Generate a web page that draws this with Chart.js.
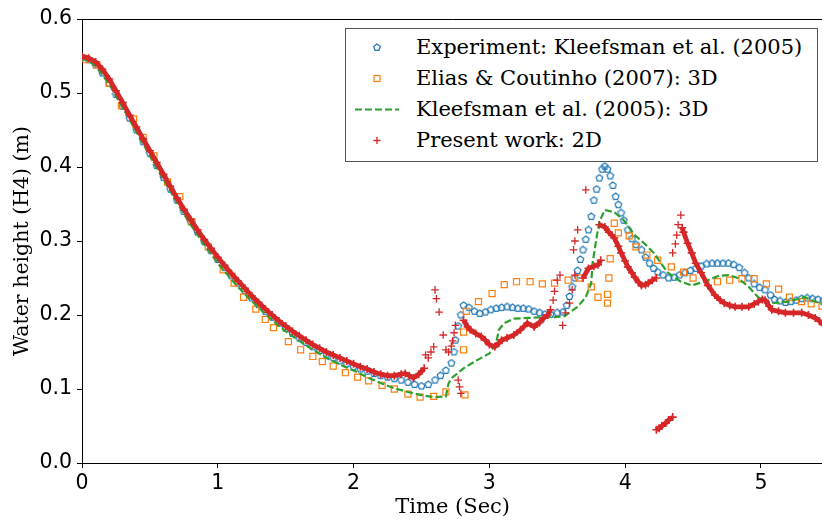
<!DOCTYPE html>
<html>
<head>
<meta charset="utf-8">
<script src="https://cdn.jsdelivr.net/npm/chart.js@4"></script>
<style>
  html, body { margin: 0; padding: 0; background: #fff; overflow: hidden; }
  #wrap { position: relative; width: 822px; height: 523px; overflow: hidden; }
  #legend {
    position: absolute; left: 345px; top: 28px; width: 473px; height: 134px;
    box-sizing: border-box; border: 1px solid #555; background: #fff;
    font-family: "DejaVu Serif", serif; font-size: 21px; color: #000;
    padding-top: 3px;
  }
  .row { position: relative; height: 31px; line-height: 31px; padding-left: 70px; white-space: nowrap; }
  .row svg { position: absolute; left: 0; top: 0; }
</style>
</head>
<body>
<div id="wrap">
  <canvas id="chart" width="829" height="523"></canvas>
  <div id="legend">
    <div class="row"><svg width="60" height="31"><polygon points="31,12 34.3,14.4 33,18.3 29,18.3 27.7,14.4" fill="none" stroke="#1f77b4" stroke-width="1.2"/></svg>Experiment: Kleefsman et al. (2005)</div>
    <div class="row"><svg width="60" height="31"><rect x="28" y="12.5" width="6" height="6" fill="none" stroke="#ff7f0e" stroke-width="1.2"/></svg>Elias &amp; Coutinho (2007): 3D</div>
    <div class="row"><svg width="60" height="31"><line x1="9" y1="15.5" x2="53" y2="15.5" stroke="#2ca02c" stroke-width="2" stroke-dasharray="7,3"/></svg>Kleefsman et al. (2005): 3D</div>
    <div class="row"><svg width="60" height="31"><path d="M31,12 V19 M27.5,15.5 H34.5" stroke="#d62728" stroke-width="1.3"/></svg>Present work: 2D</div>
  </div>
</div>
<script>
// time (s), water height (m)
const expPoints = [
  [0,.548],[0.05,.545],[0.1,.538],[0.15,.527],[0.2,.513],[0.25,.498],[0.3,.482],[0.35,.466],[0.4,.45],[0.45,.434],
  [0.5,.418],[0.55,.402],[0.6,.386],[0.65,.37],[0.7,.355],[0.75,.34],[0.8,.326],[0.85,.312],[0.9,.299],[0.95,.287],
  [1.0,.275],[1.05,.264],[1.1,.253],[1.15,.243],[1.2,.233],[1.25,.223],[1.3,.214],[1.35,.205],[1.4,.197],[1.45,.189],
  [1.5,.182],[1.55,.175],[1.6,.169],[1.65,.163],[1.7,.157],[1.75,.152],[1.8,.147],[1.85,.142],[1.9,.138],[1.95,.134],
  [2.0,.13],[2.05,.127],[2.1,.124],[2.15,.121],[2.2,.118],[2.25,.116],[2.3,.114],[2.35,.112],[2.4,.109],[2.45,.106],
  [2.5,.104],[2.55,.106],[2.6,.112],[2.64,.118],[2.68,.125],[2.72,.135],[2.74,.15],[2.75,.166],[2.77,.185],[2.79,.2],
  [2.81,.213],[2.85,.21],[2.89,.205],[2.93,.202],[2.97,.204],[3.01,.207],[3.05,.209],[3.09,.21],[3.13,.211],[3.17,.21],
  [3.21,.209],[3.25,.209],[3.29,.208],[3.33,.205],[3.37,.203],[3.41,.201],[3.45,.201],[3.5,.203],[3.54,.204],[3.57,.213],
  [3.59,.225],[3.61,.238],[3.63,.25],[3.65,.26],[3.67,.275],[3.69,.288],[3.71,.302],[3.73,.315],[3.75,.333],[3.77,.355],
  [3.79,.37],[3.81,.385],[3.83,.397],[3.85,.401],[3.87,.397],[3.89,.388],[3.91,.375],[3.93,.36],[3.95,.349],[3.97,.338],
  [3.99,.328],[4.02,.315],[4.05,.303],[4.08,.295],[4.12,.288],[4.15,.278],[4.18,.27],[4.21,.263],[4.24,.258],[4.28,.254],
  [4.32,.25],[4.36,.251],[4.4,.254],[4.44,.257],[4.48,.26],[4.52,.263],[4.56,.266],[4.6,.269],[4.64,.27],[4.68,.27],
  [4.72,.27],[4.76,.27],[4.8,.268],[4.84,.264],[4.88,.257],[4.91,.25],[4.95,.242],[4.99,.237],[5.03,.234],[5.07,.227],
  [5.1,.221],[5.14,.219],[5.18,.217],[5.22,.218],[5.26,.22],[5.3,.222],[5.34,.223],[5.38,.222],[5.42,.221],[5.46,.22]
];

const eliasPoints = [
  [0.03,.545],[0.11,.538],[0.2,.513],[0.29,.483],[0.38,.465],[0.45,.44],[0.53,.415],[0.63,.38],[0.72,.36],[0.81,.326],
  [0.93,.292],[1.04,.261],[1.12,.243],[1.19,.224],[1.28,.208],[1.35,.194],[1.41,.183],[1.52,.164],[1.61,.153],[1.7,.144],
  [1.77,.137],[1.85,.131],[1.94,.122],[2.03,.116],[2.11,.111],[2.21,.105],[2.3,.1],[2.4,.093],[2.49,.089],[2.59,.09],
  [2.68,.096],[2.82,.092],[2.81,.153],[2.81,.177],[2.83,.205],[2.92,.218],[3.02,.229],[3.11,.241],[3.2,.245],[3.3,.245],
  [3.39,.242],[3.48,.243],[3.58,.247],[3.66,.25],[3.75,.238],[3.8,.224],[3.87,.228],[3.87,.216],[3.88,.25],[3.89,.276],
  [3.92,.324],[3.95,.311],[4.03,.307],[4.08,.292],[4.16,.281],[4.24,.274],[4.34,.265],[4.43,.258],[4.5,.25],[4.68,.245],
  [4.77,.247],[4.86,.249],[4.95,.249],[5.04,.242],[5.13,.235],[5.21,.224],[5.3,.218],[5.37,.215],[5.45,.212]
];

const kleefPoints = [
  [0,.548],[0.1,.537],[0.2,.512],[0.3,.48],[0.4,.448],[0.5,.415],[0.6,.383],[0.7,.352],[0.8,.322],[0.9,.295],
  [1.0,.27],[1.1,.248],[1.2,.228],[1.3,.21],[1.4,.193],[1.5,.178],[1.6,.165],[1.7,.153],[1.8,.142],[1.9,.133],
  [2.0,.125],[2.1,.116],[2.2,.108],[2.3,.101],[2.4,.096],[2.49,.092],[2.59,.089],[2.68,.09],[2.7,.108],[2.73,.116],
  [2.81,.128],[2.91,.139],[3.0,.148],[3.05,.162],[3.07,.18],[3.11,.189],[3.18,.195],[3.28,.196],[3.38,.197],[3.48,.197],
  [3.55,.198],[3.65,.211],[3.71,.224],[3.75,.243],[3.76,.27],[3.79,.305],[3.81,.326],[3.85,.342],[3.92,.339],[3.99,.328],
  [4.07,.308],[4.14,.297],[4.21,.284],[4.31,.258],[4.41,.245],[4.49,.24],[4.58,.245],[4.69,.253],[4.76,.254],[4.83,.25],
  [4.91,.238],[4.98,.224],[5.08,.216],[5.2,.218],[5.32,.224],[5.46,.214]
];

// dense band of the present 2D result, null = break between pieces
const presentBand = [
  [0,.55],[0.05,.547],[0.1,.542],[0.15,.532],[0.2,.519],[0.25,.503],[0.3,.487],[0.35,.47],[0.4,.454],[0.45,.438],
  [0.5,.422],[0.55,.406],[0.6,.39],[0.65,.374],[0.7,.358],[0.75,.343],[0.8,.329],[0.85,.315],[0.9,.302],[0.95,.29],
  [1.0,.278],[1.05,.267],[1.1,.256],[1.15,.246],[1.2,.236],[1.25,.226],[1.3,.217],[1.35,.208],[1.4,.2],[1.45,.192],
  [1.5,.185],[1.55,.178],[1.6,.172],[1.65,.166],[1.7,.16],[1.75,.155],[1.8,.15],[1.85,.146],[1.9,.142],[1.95,.138],
  [2.0,.134],[2.05,.13],[2.1,.127],[2.15,.123],[2.2,.12],[2.25,.118],[2.3,.118],[2.35,.12],[2.38,.121],[2.41,.118],
  [2.44,.115],[2.48,.12],[2.52,.128], null,
  [2.81,.193],[2.84,.184],[2.86,.18],[2.9,.175],[2.94,.171],[2.97,.166],[3.0,.16],[3.04,.157],[3.07,.162],[3.09,.166],
  [3.13,.169],[3.18,.173],[3.23,.18],[3.28,.189],[3.33,.184],[3.37,.19],[3.4,.196],[3.43,.2],[3.45,.207], null,
  [3.69,.25],[3.73,.263],[3.77,.266],[3.8,.268],[3.82,.274], null,
  [3.81,.322],[3.85,.319],[3.88,.312],[3.92,.304],[3.95,.293],[3.97,.284],[4.0,.273],[4.02,.265],[4.05,.257],[4.07,.251],
  [4.1,.244],[4.12,.24],[4.15,.241],[4.17,.243],[4.2,.247],[4.23,.25], null,
  [4.42,.318],[4.43,.312],[4.46,.297],[4.49,.284],[4.52,.27],[4.56,.257],[4.61,.24],[4.66,.227],[4.7,.22],[4.73,.216],
  [4.77,.213],[4.81,.211],[4.86,.211],[4.91,.211],[4.95,.215],[4.98,.218],[5.01,.221],[5.03,.22],[5.06,.212],[5.08,.207],
  [5.13,.205],[5.18,.203],[5.24,.203],[5.3,.203],[5.35,.2],[5.4,.196],[5.43,.192],[5.46,.187], null,
  [4.23,.045],[4.25,.047],[4.27,.05],[4.3,.054],[4.32,.058],[4.35,.062]
];

// scattered single crosses of the present 2D result
const presentScatter = [
  [2.53,.146],[2.55,.142],[2.57,.15],[2.59,.157],[2.6,.234],[2.61,.222],[2.63,.204],[2.66,.173],[2.68,.153],[2.7,.15],
  [2.72,.158],[2.73,.165],[2.74,.176],[2.75,.186],[2.77,.112],[2.78,.103],[2.79,.094],[3.47,.22],[3.48,.232],[3.5,.247],
  [3.52,.254],[3.54,.186],[3.56,.203],[3.59,.216],[3.61,.234],[3.63,.254],[3.62,.288],[3.63,.3],[3.65,.315],[3.71,.369],
  [4.35,.284],[4.37,.296],[4.38,.308],[4.39,.322],[4.41,.335]
];

const xMax = 5.46;

function toXY(list) {
  return list.map(p => p ? { x: p[0], y: p[1] } : { x: null, y: null });
}

function pentagon(size, color) {
  const c = document.createElement('canvas');
  c.width = size; c.height = size;
  const g = c.getContext('2d');
  const r = size / 2 - 1;
  g.beginPath();
  for (let k = 0; k < 5; k++) {
    const a = -Math.PI / 2 + k * 2 * Math.PI / 5;
    const px = size / 2 + r * Math.cos(a), py = size / 2 + r * Math.sin(a);
    if (k) g.lineTo(px, py); else g.moveTo(px, py);
  }
  g.closePath();
  g.strokeStyle = color; g.lineWidth = 1.2; g.stroke();
  return c;
}

const framePlugin = {
  id: 'frame',
  afterDraw(chart) {
    const a = chart.chartArea, ctx = chart.ctx;
    ctx.save();
    ctx.strokeStyle = '#000';
    ctx.lineWidth = 1;
    ctx.beginPath();
    ctx.moveTo(a.left, a.top + 0.5);
    ctx.lineTo(a.right, a.top + 0.5);
    ctx.stroke();
    ctx.restore();
  }
};

Chart.defaults.color = '#000';
Chart.defaults.font.family = '"DejaVu Serif", serif';
Chart.defaults.font.size = 20.5;

const tickFont = { family: '"DejaVu Sans", sans-serif', size: 20.5 };

new Chart(document.getElementById('chart').getContext('2d'), {
  type: 'scatter',
  data: {
    datasets: [
      {
        label: 'Present work: 2D',
        data: toXY(presentBand),
        showLine: true,
        spanGaps: false,
        borderColor: '#d62728',
        borderWidth: 4.8,
        pointStyle: 'cross',
        pointRadius: 4,
        pointBorderWidth: 1.6,
        pointBorderColor: '#d62728',
        order: 0
      },
      {
        label: 'Present work: 2D (scatter)',
        data: toXY(presentScatter),
        showLine: false,
        pointStyle: 'cross',
        pointRadius: 3.8,
        pointBorderWidth: 1.3,
        pointBorderColor: '#d62728',
        order: 0
      },
      {
        label: 'Kleefsman et al. (2005): 3D',
        data: toXY(kleefPoints),
        showLine: true,
        borderColor: '#2ca02c',
        borderWidth: 2.2,
        borderDash: [7, 3],
        pointRadius: 0,
        order: 1
      },
      {
        label: 'Elias & Coutinho (2007): 3D',
        data: toXY(eliasPoints),
        pointStyle: 'rect',
        pointRadius: 4.3,
        pointBorderWidth: 1.2,
        pointBorderColor: '#ff7f0e',
        pointBackgroundColor: 'rgba(0,0,0,0)',
        order: 2
      },
      {
        label: 'Experiment: Kleefsman et al. (2005)',
        data: toXY(expPoints),
        pointStyle: pentagon(9, '#1f77b4'),
        pointRadius: 4,
        order: 3
      }
    ]
  },
  options: {
    responsive: false,
    animation: false,
    layout: { padding: { top: 19, right: 0, left: 0, bottom: 0 } },
    plugins: { legend: { display: false }, tooltip: { enabled: false } },
    scales: {
      x: {
        type: 'linear',
        min: 0,
        max: xMax,
        afterFit(scale) { scale.height = 60; },
        ticks: { stepSize: 1, includeBounds: false, padding: 3, maxRotation: 0, font: tickFont, callback: v => v },
        grid: { drawOnChartArea: false, drawTicks: true, tickLength: 5, color: '#000' },
        border: { display: true, color: '#000', width: 1 },
        title: { display: true, text: 'Time (Sec)', font: { size: 21 }, padding: { top: 0, bottom: 3 } }
      },
      y: {
        type: 'linear',
        min: 0,
        max: 0.6,
        afterFit(scale) { scale.width = 82; },
        ticks: { stepSize: 0.1, padding: 5, font: tickFont, callback: v => v.toFixed(1) },
        grid: { drawOnChartArea: false, drawTicks: true, tickLength: 5, color: '#000' },
        border: { display: true, color: '#000', width: 1 },
        title: { display: true, text: 'Water height (H4) (m)', font: { size: 20.5 }, padding: { top: 10, bottom: 0 } }
      }
    }
  },
  plugins: [framePlugin]
});
</script>
</body>
</html>
